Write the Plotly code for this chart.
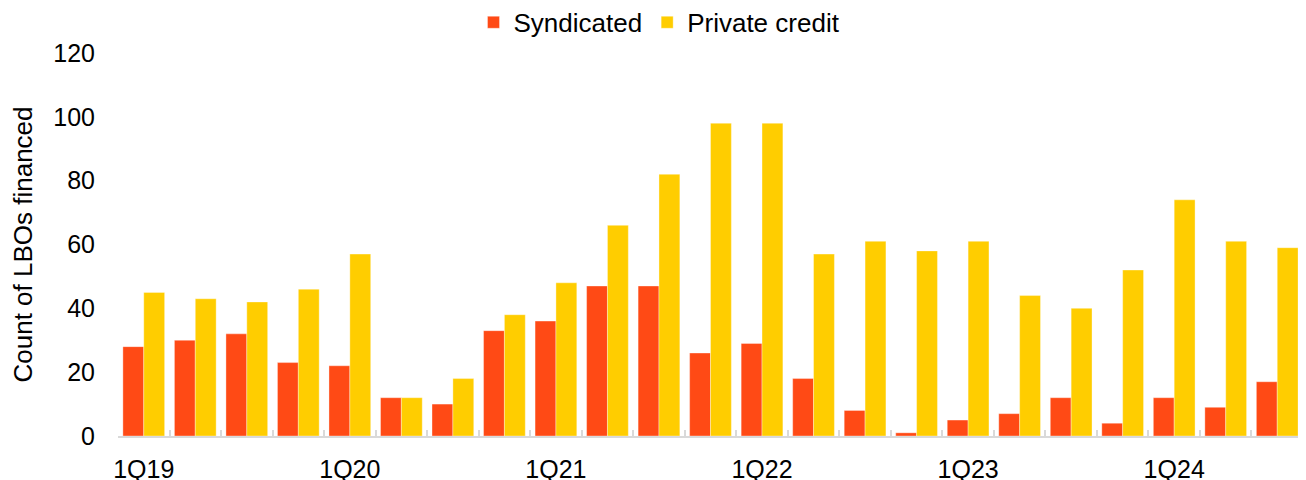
import plotly.graph_objects as go

quarters = ["1Q19", "2Q19", "3Q19", "4Q19", "1Q20", "2Q20", "3Q20", "4Q20",
            "1Q21", "2Q21", "3Q21", "4Q21", "1Q22", "2Q22", "3Q22", "4Q22",
            "1Q23", "2Q23", "3Q23", "4Q23", "1Q24", "2Q24", "3Q24"]
syndicated = [28, 30, 32, 23, 22, 12, 10, 33, 36, 47, 47, 26, 29, 18, 8, 1,
              5, 7, 12, 4, 12, 9, 17]
private_credit = [45, 43, 42, 46, 57, 12, 18, 38, 48, 66, 82, 98, 98, 57, 61, 58,
                  61, 44, 40, 52, 74, 61, 59]
tick_text = [q if q.startswith("1Q") else "" for q in quarters]

FONT = "Liberation Sans, Arial, sans-serif"
RED = "#FF4A15"
YELLOW = "#FFCD00"

fig = go.Figure()
fig.add_trace(go.Bar(x=quarters, y=syndicated, name="Syndicated",
                     marker=dict(color=RED, line=dict(width=1, color="rgba(255,255,255,0.35)"))))
fig.add_trace(go.Bar(x=quarters, y=private_credit, name="Private credit",
                     marker=dict(color=YELLOW, line=dict(width=1, color="rgba(255,255,255,0.35)"))))

fig.update_layout(
    width=1306, height=480,
    margin=dict(l=110, r=11, t=45, b=52, autoexpand=False),
    paper_bgcolor="white", plot_bgcolor="white",
    font=dict(family=FONT, size=25, color="#000000"),
    barmode="group", bargap=0.19, bargroupgap=0,
    showlegend=True,
    legend=dict(orientation="h", x=0.3, xanchor="left", y=1.08, yanchor="middle",
                font=dict(size=26), traceorder="normal", itemwidth=30,
                bgcolor="rgba(0,0,0,0)"),
    xaxis=dict(type="category", tickmode="array", tickvals=quarters, ticktext=tick_text,
               tickson="boundaries", ticks="inside", ticklen=6, tickwidth=2,
               tickcolor="#d9d9d9", showline=True, linecolor="#d9d9d9", linewidth=2,
               showgrid=False, tickfont=dict(size=25), tickangle=0, automargin=False,
               ticklabelstandoff=10),
    yaxis=dict(range=[0, 120], dtick=20, tick0=0, showgrid=False, showline=False,
               zeroline=False, ticks="", tickfont=dict(size=25), ticklabelstandoff=22,
               automargin=False,
               title=dict(text="Count of LBOs financed", font=dict(size=26), standoff=19)),
)

fig.write_html("out.html")
